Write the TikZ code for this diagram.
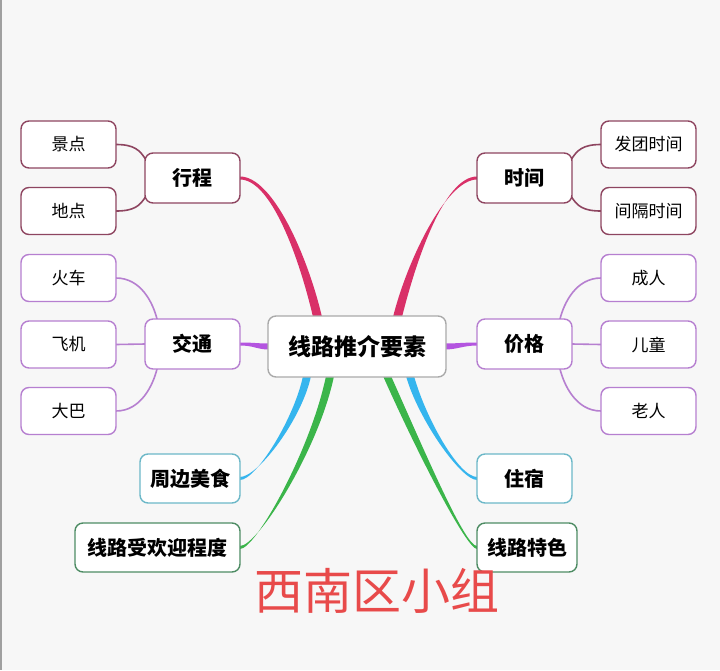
\documentclass[tikz,border=0pt]{standalone}
\usepackage{fontspec}
\setmainfont{Noto Sans CJK SC}
\usetikzlibrary{calc,backgrounds}
\definecolor{bgc}{HTML}{F7F7F7}
\definecolor{edgegray}{HTML}{A0A0A0}
\definecolor{redb}{HTML}{D93068}
\definecolor{maroon}{HTML}{8E4560}
\definecolor{purpb}{HTML}{B455E0}
\definecolor{purpl}{HTML}{B67FD0}
\definecolor{blueb}{HTML}{35B5EE}
\definecolor{bluel}{HTML}{6CB8C8}
\definecolor{greenb}{HTML}{3BB54A}
\definecolor{greenl}{HTML}{4E8C64}
\definecolor{centerline}{HTML}{AAAAAA}
\definecolor{titlered}{HTML}{E84A4A}
\begin{document}
\begin{tikzpicture}[x=1pt,y=-1pt,
  box/.style={draw,line width=1.4pt,rounded corners=8pt,fill=white,inner sep=0pt,outer sep=0pt,text=black},
  subbox/.style={box,minimum width=95pt,minimum height=47pt,font=\fontsize{17}{17}\selectfont},
  mainbox/.style={box,minimum width=95pt,minimum height=50pt,font=\fontsize{20}{20}\selectfont\bfseries},
  thin/.style={line width=1.6pt}]
\begin{scope}[on background layer]
\fill[bgc] (0,0) rectangle (720,670);
\fill[edgegray] (0,0) rectangle (1.5,670);
\end{scope}
\useasboundingbox (0,0) rectangle (720,670);

% centre
\node[box,draw=centerline,minimum width=178pt,minimum height=61pt,font=\fontsize{23}{23}\selectfont\bfseries] (ct) at (357,346.5) {线路推介要素};

% left side
\node[mainbox,draw=maroon] (xc) at (192.5,178) {行程};
\node[subbox,draw=maroon] (jd) at (68.5,144.5) {景点};
\node[subbox,draw=maroon] (dd) at (68.5,211) {地点};
\node[mainbox,draw=purpl] (jt) at (192.5,344) {交通};
\node[subbox,draw=purpl] (hc) at (68.5,278) {火车};
\node[subbox,draw=purpl] (fj) at (68.5,344.5) {飞机};
\node[subbox,draw=purpl] (db) at (68.5,411) {大巴};
\node[mainbox,draw=bluel,minimum width=100pt,minimum height=49pt] (zb) at (190,478.5) {周边美食};
\node[mainbox,draw=greenl,minimum width=165pt,minimum height=49pt] (lp) at (157.5,547.5) {线路受欢迎程度};

% right side
\node[mainbox,draw=maroon] (sj) at (524.5,178) {时间};
\node[subbox,draw=maroon] (ft) at (648.5,144.5) {发团时间};
\node[subbox,draw=maroon] (jg) at (648.5,211) {间隔时间};
\node[mainbox,draw=purpl] (pr) at (524.5,344) {价格};
\node[subbox,draw=purpl] (cr) at (648.5,278) {成人};
\node[subbox,draw=purpl] (et) at (648.5,344.5) {儿童};
\node[subbox,draw=purpl] (lr) at (648.5,411) {老人};
\node[mainbox,draw=bluel,minimum height=49pt] (zs) at (524.5,478.5) {住宿};
\node[mainbox,draw=greenl,minimum width=100pt,minimum height=49pt] (ts) at (527,547.5) {线路特色};

% title
\node[text=titlered,font=\fontsize{49}{49}\selectfont,inner sep=0pt] (title) at (377,591) {西南区小组};

\begin{scope}[on background layer]
% thick tapered branches
\fill[redb] ($(xc.east)+(0,-1.5)$) .. controls +(33,0) and +(-14,-60) .. ($(ct.north west)+(54,1)$)
  -- ($(ct.north west)+(45,1)$) .. controls +(-14,-60) and +(31,0) .. ($(xc.east)+(0,1.5)$) -- cycle;
\fill[redb] ($(sj.west)+(0,-1.5)$) .. controls +(-33,0) and +(14,-56) .. ($(ct.north east)+(-44,1)$)
  -- ($(ct.north east)+(-53,1)$) .. controls +(14,-56) and +(-31,0) .. ($(sj.west)+(0,1.5)$) -- cycle;
\fill[purpb] ($(jt.east)+(0,-1.5)$) .. controls +(14,0) and +(-12,0) .. ($(ct.west)+(1,-3)$)
  -- ($(ct.west)+(1,3)$) .. controls +(-12,0) and +(14,0) .. ($(jt.east)+(0,1.5)$) -- cycle;
\fill[purpb] ($(pr.west)+(0,-1.5)$) .. controls +(-14,0) and +(12,0) .. ($(ct.east)+(-1,-3)$)
  -- ($(ct.east)+(-1,3)$) .. controls +(12,0) and +(-14,0) .. ($(pr.west)+(0,1.5)$) -- cycle;
\fill[blueb] ($(zb.east)+(0,-1.5)$) .. controls +(18,0) and +(-9,43) .. ($(ct.south west)+(43,-1)$)
  -- ($(ct.south west)+(35,-1)$) .. controls +(-9,43) and +(16,0) .. ($(zb.east)+(0,1.5)$) -- cycle;
\fill[greenb] ($(lp.east)+(0,-1.5)$) .. controls +(18,0) and +(-15,73) .. ($(ct.south west)+(66,-1)$)
  -- ($(ct.south west)+(58,-1)$) .. controls +(-15,73) and +(16,0) .. ($(lp.east)+(0,1.5)$) -- cycle;
\fill[blueb] ($(zs.west)+(0,-1.5)$) .. controls +(-18,0) and +(12,43) .. ($(ct.south east)+(-32,-1)$)
  -- ($(ct.south east)+(-40,-1)$) .. controls +(12,43) and +(-16,0) .. ($(zs.west)+(0,1.5)$) -- cycle;
\fill[greenb] ($(ts.west)+(0,-1.5)$) .. controls +(-12,0) and +(37,83) .. ($(ct.south east)+(-55,-1)$)
  -- ($(ct.south east)+(-63,-1)$) .. controls +(37,83) and +(-10,0) .. ($(ts.west)+(0,1.5)$) -- cycle;

% thin connectors, left
\draw[thin,maroon] (jd.east) .. controls +(18,0) and +(-6,-10) .. ($(xc.north west)+(1,7)$);
\draw[thin,maroon] (dd.east) .. controls +(18,0) and +(-6,10) .. ($(xc.south west)+(1,-7)$);
\draw[thin,purpl] (hc.east) .. controls +(25,0) and +(-4,-16) .. ($(jt.north west)+(12,0)$);
\draw[thin,purpl] (fj.east) -- (jt.west);
\draw[thin,purpl] (db.east) .. controls +(25,0) and +(-4,16) .. ($(jt.south west)+(12,0)$);
% thin connectors, right
\draw[thin,maroon] (ft.west) .. controls +(-18,0) and +(6,-10) .. ($(sj.north east)+(-1,7)$);
\draw[thin,maroon] (jg.west) .. controls +(-18,0) and +(6,10) .. ($(sj.south east)+(-1,-7)$);
\draw[thin,purpl] (cr.west) .. controls +(-25,0) and +(4,-16) .. ($(pr.north east)+(-12,0)$);
\draw[thin,purpl] (et.west) -- (pr.east);
\draw[thin,purpl] (lr.west) .. controls +(-25,0) and +(4,16) .. ($(pr.south east)+(-12,0)$);
\end{scope}
\end{tikzpicture}
\end{document}
